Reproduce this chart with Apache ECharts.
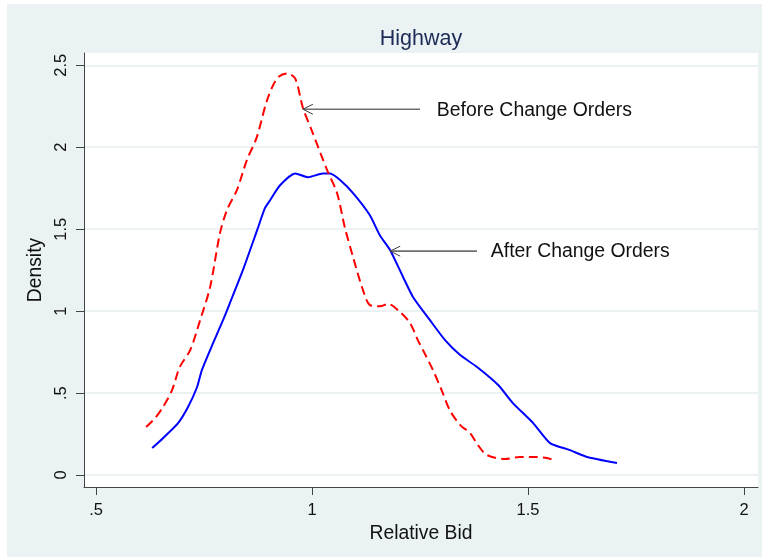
<!DOCTYPE html>
<html>
<head>
<meta charset="utf-8">
<script src="https://cdn.jsdelivr.net/npm/echarts@6/dist/echarts.min.js"></script>
<style>
  html, body { margin: 0; padding: 0; background: #ffffff; }
  #chart { width: 765px; height: 560px; }
</style>
</head>
<body>
<div id="chart"></div>
<script>
// Kernel density of relative bids, highway projects
const beforeX = [0.616, 0.637, 0.655, 0.676, 0.694, 0.718, 0.741, 0.764, 0.787, 0.803, 0.826, 0.849, 0.872, 0.896, 0.919, 0.942, 0.961, 0.979, 1.002, 1.035, 1.058, 1.076, 1.095, 1.118, 1.134, 1.157, 1.176, 1.204, 1.227, 1.245, 1.257, 1.280, 1.300, 1.319, 1.343, 1.366, 1.384, 1.405, 1.447, 1.481, 1.512, 1.544, 1.565];
const beforeY = [0.293, 0.348, 0.415, 0.518, 0.660, 0.762, 0.945, 1.146, 1.476, 1.616, 1.738, 1.920, 2.060, 2.287, 2.420, 2.450, 2.420, 2.240, 2.085, 1.860, 1.720, 1.510, 1.330, 1.128, 1.037, 1.030, 1.043, 0.994, 0.927, 0.823, 0.762, 0.640, 0.518, 0.396, 0.305, 0.256, 0.183, 0.122, 0.098, 0.110, 0.110, 0.104, 0.085];

const afterX = [0.630, 0.655, 0.690, 0.713, 0.734, 0.745, 0.771, 0.794, 0.810, 0.840, 0.873, 0.891, 0.903, 0.926, 0.961, 0.991, 1.025, 1.042, 1.065, 1.095, 1.134, 1.157, 1.181, 1.211, 1.234, 1.273, 1.308, 1.343, 1.382, 1.431, 1.465, 1.512, 1.551, 1.597, 1.637, 1.706];
const afterY = [0.165, 0.225, 0.317, 0.415, 0.537, 0.640, 0.805, 0.945, 1.050, 1.250, 1.494, 1.628, 1.677, 1.768, 1.840, 1.817, 1.840, 1.840, 1.800, 1.720, 1.585, 1.463, 1.372, 1.207, 1.085, 0.945, 0.823, 0.732, 0.659, 0.549, 0.439, 0.317, 0.195, 0.152, 0.110, 0.073];

// Axis ticks and their printed labels
const xTicks = [0.5, 1, 1.5, 2];
const xTickLabels = ['.5', '1', '1.5', '2'];
const yTicks = [0, 0.5, 1, 1.5, 2, 2.5];
const yTickLabels = ['0', '.5', '1', '1.5', '2', '2.5'];

// Curve annotations: arrow tip (x, y), arrow tail x, text start x
const noteText = ['Before Change Orders', 'After Change Orders'];
const noteTipX = [0.979, 1.181];
const noteTipY = [2.232, 1.366];
const noteTailX = [1.250, 1.382];
const noteTextX = [1.289, 1.414];

const zip = (xs, ys) => xs.map((x, i) => [x, ys[i]]);
const labelFor = (ticks, labels) => v => {
  const i = ticks.findIndex(t => Math.abs(t - v) < 1e-9);
  return i >= 0 ? labels[i] : '';
};

const FONT = '"Liberation Sans", Arial, sans-serif';
const BG = '#eaf2f3';

const chart = echarts.init(document.getElementById('chart'), null, { renderer: 'canvas' });

chart.setOption({
  animation: false,
  backgroundColor: '#ffffff',
  graphic: [{
    type: 'rect',
    z: -10,
    shape: { x: 7, y: 4, width: 755, height: 553 },
    style: { fill: BG }
  }],
  title: {
    text: 'Highway',
    left: 421,
    top: 28,
    textAlign: 'center',
    padding: 0,
    textStyle: { fontFamily: FONT, fontSize: 21.5, fontWeight: 'normal', color: '#1c2b55' }
  },
  grid: {
    left: 84, top: 53, right: 7, bottom: 73,
    show: true, backgroundColor: '#ffffff', borderWidth: 0
  },
  xAxis: {
    type: 'value',
    min: 0.4722, max: 2.0324,
    name: 'Relative Bid',
    nameLocation: 'middle',
    nameGap: 33,
    nameTextStyle: { fontFamily: FONT, fontSize: 19.3, color: '#111' },
    axisLine: { show: true, onZero: false, lineStyle: { color: '#444', width: 1 } },
    axisTick: { show: true, length: 8, customValues: xTicks, lineStyle: { color: '#444', width: 1 } },
    axisLabel: {
      customValues: xTicks, margin: 15,
      formatter: labelFor(xTicks, xTickLabels),
      fontFamily: FONT, fontSize: 16.5, color: '#111'
    },
    splitLine: { show: false }
  },
  yAxis: {
    type: 'value',
    min: -0.073, max: 2.575,
    name: 'Density',
    nameLocation: 'middle',
    nameGap: 34,
    nameTextStyle: { fontFamily: FONT, fontSize: 19.3, color: '#111' },
    axisLine: { show: true, onZero: false, lineStyle: { color: '#444', width: 1 } },
    axisTick: { show: true, length: 8, customValues: yTicks, lineStyle: { color: '#444', width: 1 } },
    axisLabel: {
      customValues: yTicks, rotate: 90, margin: 14,
      formatter: labelFor(yTicks, yTickLabels),
      fontFamily: FONT, fontSize: 16.5, color: '#111'
    },
    splitLine: { show: true, lineStyle: { color: BG, width: 2 } }
  },
  series: [
    {
      name: 'Before Change Orders',
      type: 'line',
      data: zip(beforeX, beforeY),
      showSymbol: false,
      smooth: 0.3,
      lineStyle: { color: '#ff0000', width: 2, type: [9, 5] },
      z: 3
    },
    {
      name: 'After Change Orders',
      type: 'line',
      data: zip(afterX, afterY),
      showSymbol: false,
      smooth: 0.2,
      lineStyle: { color: '#0000ff', width: 2, type: 'solid' },
      z: 2
    },
    {
      type: 'custom',
      data: noteText.map((_, i) => [noteTipX[i], noteTipY[i], noteTailX[i], noteTextX[i]]),
      z: 5,
      silent: true,
      renderItem(params, api) {
        const y = api.value(1);
        const tip = api.coord([api.value(0), y]);
        const tail = api.coord([api.value(2), y]);
        const txt = api.coord([api.value(3), y]);
        return {
          type: 'group',
          children: [
            { type: 'line', shape: { x1: tail[0], y1: tail[1], x2: tip[0], y2: tip[1] },
              style: { stroke: '#6e6e6e', lineWidth: 1.6 } },
            { type: 'polyline',
              shape: { points: [[tip[0] + 10, tip[1] - 5], [tip[0], tip[1]], [tip[0] + 10, tip[1] + 5]] },
              style: { stroke: '#3c3c3c', fill: null, lineWidth: 1 } },
            { type: 'text', x: txt[0], y: txt[1] + 1,
              style: { text: noteText[params.dataIndex], fontFamily: FONT, fontSize: 19.4,
                       fill: '#111', align: 'left', verticalAlign: 'middle' } }
          ]
        };
      }
    }
  ]
});
</script>
</body>
</html>
